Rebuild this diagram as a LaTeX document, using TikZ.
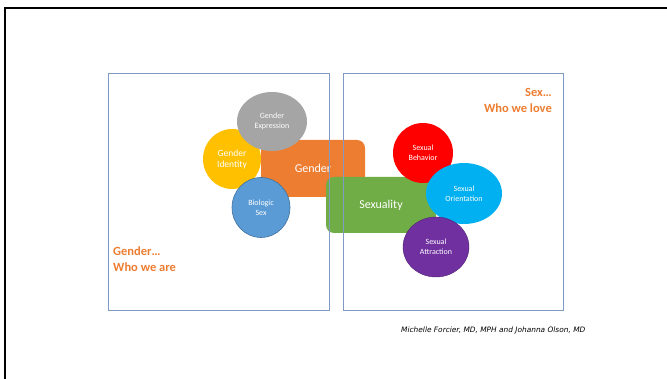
\documentclass[tikz,border=0pt]{standalone}
\usepackage{fontspec}
\setmainfont{Carlito}
\newfontfamily\creditfont{DejaVu Sans}
\usetikzlibrary{shapes.geometric}
\definecolor{genorange}{HTML}{ED7D31}
\definecolor{sexgreen}{HTML}{70AD47}
\definecolor{exprgray}{HTML}{A5A5A5}
\definecolor{identyellow}{HTML}{FFC000}
\definecolor{bioblue}{HTML}{5B9BD5}
\definecolor{biorim}{HTML}{41719C}
\definecolor{behavred}{HTML}{FF0000}
\definecolor{orientcyan}{HTML}{00B0F0}
\definecolor{attrpurple}{HTML}{7030A0}
\definecolor{panelblue}{HTML}{7F9BC4}
\begin{document}
\begin{tikzpicture}[x=1pt, y=-1pt,
    blob/.style={ellipse, inner sep=0pt, text=white, align=center,
                 font=\fontsize{8}{10}\selectfont},
    tile/.style={rounded corners=8pt, inner sep=0pt, text=white,
                 font=\fontsize{12}{14}\selectfont},
    panel/.style={draw=panelblue, line width=0.8pt, minimum width=221pt,
                  minimum height=237pt, inner sep=0pt},
    tag/.style={text=genorange, inner sep=0pt,
                font=\bfseries\fontsize{12.5}{15}\selectfont}
  ]
  \useasboundingbox (0,0) rectangle (667,379);
  \draw[line width=2pt] (5,380) |- (668,8);

  \node[tile, fill=genorange, minimum width=104pt, minimum height=57pt] (gender) at (313,168.5) {Gender};
  \node[blob, fill=identyellow, minimum width=58pt, minimum height=60pt,
        font=\fontsize{9.5}{11}\selectfont] (identity) at (232,159) {Gender\\Identity};
  \node[blob, fill=exprgray, minimum width=70pt, minimum height=59pt] (expression) at (272,121.5) {Gender\\Expression};
  \node[blob, fill=bioblue, draw=biorim, line width=0.6pt, minimum width=58pt,
        minimum height=60pt] (biosex) at (261,207.5) {Biologic\\Sex};
  \node[tile, fill=sexgreen, minimum width=110pt, minimum height=56pt] (sexuality) at (381,205) {Sexuality};
  \node[blob, fill=behavred, minimum width=60pt, minimum height=60pt] (behavior) at (423,153) {Sexual\\Behavior};
  \node[blob, fill=orientcyan, minimum width=76pt, minimum height=61pt] (orientation) at (464,193.5) {Sexual\\Orientation};
  \node[blob, fill=attrpurple, draw=attrpurple!70!black, line width=0.4pt, minimum width=66pt,
        minimum height=60pt] (attraction) at (436,247) {Sexual\\Attraction};

  \node[panel] (genderpanel) at (218.5,191.5) {};
  \node[panel, minimum width=220pt] (sexpanel) at (453,191.5) {};

  \node[tag, anchor=base west] (gendertag) at (113,256) {Gender…};
  \node[tag, anchor=base west] (arewho) at (113,272) {Who we are};
  \node[tag, anchor=base east] (sextag) at (552,96.5) {Sex…};
  \node[tag, anchor=base east] (lovewho) at (552,113) {Who we love};

  \node[anchor=base west, inner sep=0pt, font=\creditfont\itshape\fontsize{7.4}{9}\selectfont]
    (credit) at (401,333) {Michelle Forcier, MD, MPH and Johanna Olson, MD};
\end{tikzpicture}
\end{document}
